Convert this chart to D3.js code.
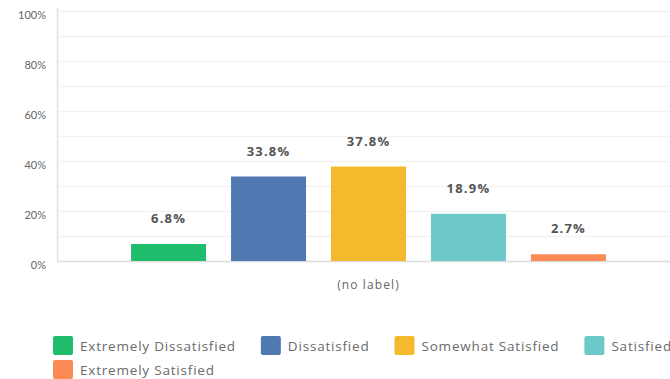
<!DOCTYPE html>
<html><head><meta charset="utf-8">
<script src="https://cdn.jsdelivr.net/npm/d3@7"></script>
<style>body{margin:0;background:#fff}svg{display:block}</style>
</head><body>
<svg id="c" width="670" height="379"></svg>
<script>
const categories = ["(no label)"];
const series = ["Extremely Dissatisfied","Dissatisfied","Somewhat Satisfied","Satisfied","Extremely Satisfied"];
const values = [6.8, 33.8, 37.8, 18.9, 2.7];
const colors = ["#1fbd6c","#5079b2","#f4b92d","#6dc8ca","#fb8a55"];
const yTicks = [0,20,40,60,80,100];
const gridTicks = [10,20,30,40,50,60,70,80,90,100];

const svg = d3.select("#c");
const font = "Lato, 'Open Sans', sans-serif";
const font2 = "'Open Sans', Lato, sans-serif";
const y = d3.scaleLinear().domain([0,100]).range([261,11]);
const x0 = d3.scaleBand().domain(categories).range([57,680]).paddingInner(0).paddingOuter(0.156);
const x1 = d3.scaleBand().domain(series).range([0, x0.bandwidth()]).paddingInner(0.25).paddingOuter(0);

// gridlines
svg.append("g").selectAll("line").data(gridTicks).join("line")
  .attr("x1",58).attr("x2",670).attr("y1",d=>y(d)+0.5).attr("y2",d=>y(d)+0.5)
  .attr("stroke","#f2f2f2").attr("stroke-width",1.5);
// baseline
svg.append("line").attr("x1",57).attr("x2",670).attr("y1",y(0)+0.5).attr("y2",y(0)+0.5)
  .attr("stroke","#dcdcdc").attr("stroke-width",1.5);
// y axis line
svg.append("line").attr("x1",57.5).attr("x2",57.5).attr("y1",8).attr("y2",262)
  .attr("stroke","#e2e2e2").attr("stroke-width",1.5);

// y tick labels
const yAxis = d3.axisLeft(y).tickValues(yTicks).tickFormat(d=>d+"%").tickSize(0).tickPadding(11);
const ga = svg.append("g").attr("transform","translate(57,4)").call(yAxis);
ga.select(".domain").remove();
ga.selectAll("text").attr("fill","#666").style("font-family",font).style("font-size","11px");

// bars
const g = svg.append("g").attr("transform",`translate(${x0(categories[0])},0)`);
g.selectAll("rect").data(series).join("rect")
  .attr("x",d=>x1(d)).attr("width",x1.bandwidth())
  .attr("y",(d,i)=>y(values[i])).attr("height",(d,i)=>y(0)-y(values[i]))
  .attr("fill",(d,i)=>colors[i]);
g.selectAll("text").data(series).join("text")
  .attr("x",d=>x1(d)+x1.bandwidth()/2).attr("y",(d,i)=>y(values[i])-21)
  .attr("text-anchor","middle").attr("fill","#555").style("font-family",font2)
  .style("font-size","13px").style("font-weight","bold").style("letter-spacing","1.2px")
  .text((d,i)=>values[i].toFixed(1)+"%");

// x label
svg.append("text").attr("x",x0(categories[0])+x0.bandwidth()/2).attr("y",289)
  .attr("text-anchor","middle").attr("fill","#666").style("font-family",font2).style("font-size","12px")
  .style("letter-spacing","1.1px")
  .text(categories[0]);

// legend
const lg = svg.append("g");
let lx = 53, ly = 336;
series.forEach((s,i)=>{
  const it = lg.append("g");
  it.append("rect").attr("x",0).attr("y",0).attr("width",20).attr("height",19).attr("rx",2).attr("fill",colors[i]);
  const t = it.append("text").attr("x",27).attr("y",14.5).attr("fill","#6a6a6a")
    .style("font-family",font2).style("font-size","13.5px").style("letter-spacing","0.8px").text(s);
  const w = 27 + t.node().getComputedTextLength();
  if (i===4) { lx = 53; ly = 360; }
  it.attr("transform",`translate(${lx},${ly})`);
  lx += w + 25;
});
</script>
</body></html>
